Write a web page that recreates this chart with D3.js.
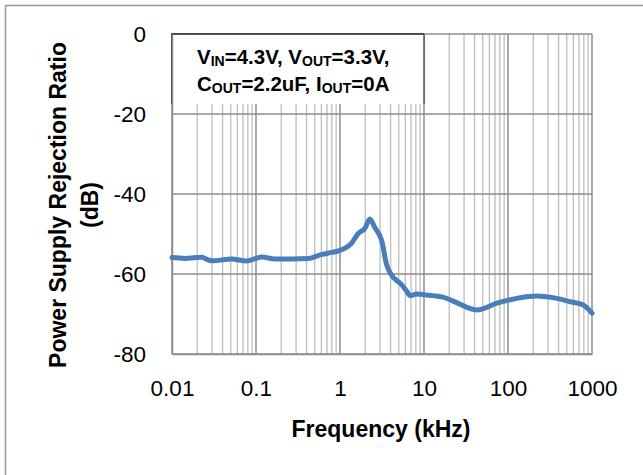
<!DOCTYPE html>
<html><head><meta charset="utf-8">
<script src="https://cdn.jsdelivr.net/npm/d3@7"></script>
<style>body{margin:0;background:#fff}svg{display:block}</style>
</head><body>
<script>
const freq = [0.01, 0.0143, 0.0226, 0.027, 0.031, 0.051, 0.077, 0.117, 0.168, 0.42, 0.61, 0.80, 0.95, 1.14, 1.37, 1.66, 1.98, 2.26, 2.6, 3.13, 3.6, 3.97, 5.45, 6.2, 6.8, 8.2, 10.7, 16.8, 21.9, 42.5, 73.9, 127, 220, 343, 545, 787, 1000];
const psrr = [-55.9, -56.1, -55.8, -56.5, -56.7, -56.25, -56.75, -55.75, -56.25, -56.1, -55.1, -54.6, -54.25, -53.6, -52.3, -49.8, -48.6, -46.25, -48.4, -51.6, -57.75, -59.8, -62.75, -64.25, -65.4, -65, -65.25, -65.8, -66.7, -69, -67.3, -66.1, -65.5, -65.9, -66.9, -67.75, -69.8];
const xTicks = [0.01, 0.1, 1, 10, 100, 1000];
const xTickLabels = ["0.01", "0.1", "1", "10", "100", "1000"];
const yTicks = [0, -20, -40, -60, -80];
const yTickLabels = ["0", "-20", "-40", "-60", "-80"];
const xTitle = "Frequency (kHz)";
const yTitle = ["Power Supply Rejection Ratio", "(dB)"];

const W = 643, H = 475;
const m = {left: 172, right: 592, top: 34, bottom: 354};
const tf = "Liberation Sans, Arial, sans-serif";
const svg = d3.select("body").append("svg").attr("width", W).attr("height", H);
svg.append("rect").attr("x", 5.5).attr("y", 5.5).attr("width", 700).attr("height", 700)
  .attr("fill", "#fff").attr("stroke", "#9a9a9a").attr("stroke-width", 1.5);

const x = d3.scaleLog().domain([0.01, 1000]).range([m.left, m.right]);
const y = d3.scaleLinear().domain([-80, 0]).range([m.bottom, m.top]);

// minor grid
const minor = [];
for (let d = -2; d < 3; d++) for (let k = 2; k <= 9; k++) minor.push(k * Math.pow(10, d));
const g = svg.append("g");
g.selectAll(".minor").data(minor).join("line")
  .attr("x1", d => x(d)).attr("x2", d => x(d))
  .attr("y1", m.top).attr("y2", m.bottom)
  .attr("stroke", "#bdbdbd").attr("stroke-width", 1.3);
g.selectAll(".hmaj").data(yTicks).join("line")
  .attr("x1", m.left).attr("x2", m.right)
  .attr("y1", d => y(d)).attr("y2", d => y(d))
  .attr("stroke", "#8c8c8c").attr("stroke-width", 1.5);
g.selectAll(".vmaj").data(xTicks).join("line")
  .attr("x1", d => x(d)).attr("x2", d => x(d))
  .attr("y1", m.top).attr("y2", m.bottom)
  .attr("stroke", "#8c8c8c").attr("stroke-width", 1.5);

// annotation box
const bx0 = m.left, bx1 = x(10), by0 = m.top, by1 = 104;
svg.append("rect").attr("x", bx0).attr("y", by0).attr("width", bx1 - bx0).attr("height", by1 - by0).attr("fill", "#fff");
svg.append("path").attr("d", `M${bx0},${by1}V${by0}H${bx1}`).attr("fill", "none").attr("stroke", "#222").attr("stroke-width", 1.5);
svg.append("path").attr("d", `M${bx1},${by0}V${by1}`).attr("fill", "none").attr("stroke", "#555").attr("stroke-width", 1.5);

// axes
const yAxis = d3.axisLeft(y).tickValues(yTicks).tickFormat((d, i) => yTickLabels[i]).tickSize(0).tickPadding(26);
const ya = svg.append("g").attr("transform", `translate(${m.left},0)`).call(yAxis);
ya.select(".domain").attr("stroke", "#8c8c8c").attr("stroke-width", 1.5);
ya.selectAll("text").attr("font-family", tf).attr("font-size", 22.5).attr("fill", "#000");

const xAxis = d3.axisBottom(x).tickValues(xTicks).tickFormat((d, i) => xTickLabels[i]).tickSize(0).tickPadding(26);
const xa = svg.append("g").attr("transform", `translate(0,${m.bottom})`).call(xAxis);
xa.select(".domain").attr("stroke", "#8c8c8c").attr("stroke-width", 1.5);
xa.selectAll("text").attr("font-family", tf).attr("font-size", 22.5).attr("fill", "#000");

// curve
const line = d3.line().x((d, i) => x(freq[i])).y(d => y(d)).curve(d3.curveMonotoneX);
svg.append("path").datum(psrr).attr("d", line).attr("fill", "none")
  .attr("stroke", "#4a7ebb").attr("stroke-width", 5).attr("stroke-linejoin", "round").attr("stroke-linecap", "round");

// annotation text
const parts1 = [["V", 0], ["IN", 1], ["=4.3V, V", 0], ["OUT", 1], ["=3.3V,", 0]];
const parts2 = [["C", 0], ["OUT", 1], ["=2.2uF, I", 0], ["OUT", 1], ["=0A", 0]];
function rich(yy, parts) {
  const t = svg.append("text").attr("x", 197).attr("y", yy).attr("font-family", tf).attr("font-weight", "bold").attr("font-size", 20.5);
  parts.forEach(([s, sub]) => {
    t.append("tspan").text(s).attr("font-size", sub ? 14 : 20.5).attr("baseline-shift", sub ? "-1.5" : null);
  });
}
rich(64, parts1);
rich(91, parts2);

// titles
svg.append("text").attr("x", (m.left + m.right) / 2 - 1).attr("y", 437).attr("text-anchor", "middle")
  .attr("font-family", tf).attr("font-weight", "bold").attr("font-size", 23).text(xTitle);
const yt = svg.append("g").attr("transform", "translate(0,205) rotate(-90)");
yt.append("text").attr("x", 0).attr("y", 66).attr("text-anchor", "middle")
  .attr("font-family", tf).attr("font-weight", "bold").attr("font-size", 23).text(yTitle[0]);
yt.append("text").attr("x", 0).attr("y", 98).attr("text-anchor", "middle")
  .attr("font-family", tf).attr("font-weight", "bold").attr("font-size", 23).text(yTitle[1]);
</script>
</body></html>
